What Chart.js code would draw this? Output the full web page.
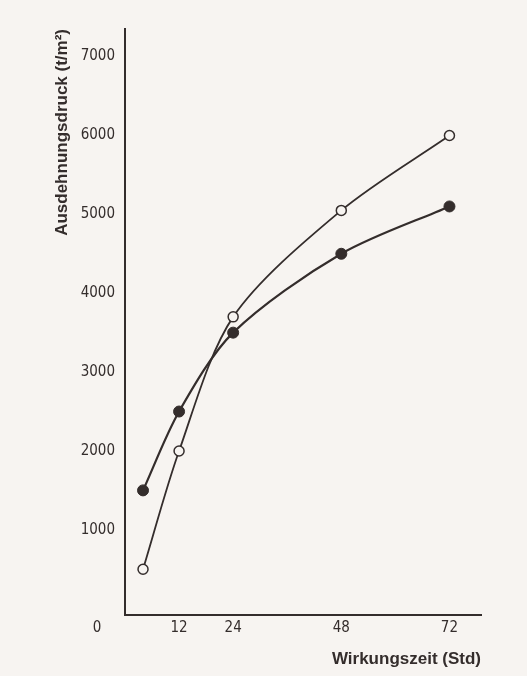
<!DOCTYPE html>
<html>
<head>
<meta charset="utf-8">
<script src="https://cdn.jsdelivr.net/npm/chart.js@4"></script>
<style>
  html, body { margin: 0; padding: 0; background: #f7f4f1; }
  #wrap { width: 527px; height: 676px; }
</style>
</head>
<body>
<div id="wrap"><canvas id="chart" width="527" height="676"></canvas></div>
<script>
/* DATA */
const hours = [4, 12, 24, 48, 72];
const openValues = [500, 2000, 3700, 5050, 6000];
const filledValues = [1500, 2500, 3500, 4500, 5100];
const xTicks = [12, 24, 48, 72];
const yTicks = [0, 1000, 2000, 3000, 4000, 5000, 6000, 7000];

const ink = "#342d2c";
const paper = "#f7f4f1";
const tickFont = { family: "'Liberation Sans Narrow', 'DejaVu Sans Condensed', sans-serif", size: 15 };
const titleFont = { family: "'Liberation Sans', Arial, sans-serif", size: 17, weight: "bold" };

function toPoints(values) {
    return hours.map((h, i) => ({ x: h, y: values[i] }));
}

/* BACKGROUND + ORIGIN LABEL */
const paperPlugin = {
    id: "paper",
    beforeDraw(chart) {
        let c = chart.ctx;
        c.save();
        c.fillStyle = paper;
        c.fillRect(0, 0, chart.width, chart.height);
        c.restore();
    },
    afterDraw(chart) {
        // the "0" of the y axis sits down on the row of x labels
        let c = chart.ctx;
        let area = chart.chartArea;
        c.save();
        c.font = "15px " + tickFont.family;
        c.fillStyle = ink;
        c.textAlign = "center";
        c.textBaseline = "middle";
        c.fillText("0", area.left - 28, area.bottom + 13);
        c.restore();
    }
};

let ctx = document.getElementById("chart").getContext("2d");

let chart = new Chart(ctx, {
    type: "line",
    data: {
        datasets: [
            {
                label: "offen",
                data: toPoints(openValues),
                borderColor: ink,
                borderWidth: 1.8,
                tension: 0.3,
                pointRadius: 5,
                pointBorderWidth: 1.5,
                pointBackgroundColor: paper,
                pointBorderColor: ink
            },
            {
                label: "voll",
                data: toPoints(filledValues),
                borderColor: ink,
                borderWidth: 2.2,
                tension: 0.3,
                pointRadius: 5.5,
                pointBorderWidth: 1,
                pointBackgroundColor: ink,
                pointBorderColor: ink
            }
        ]
    },
    options: {
        responsive: false,
        animation: false,
        layout: { padding: { top: 29, right: 46, bottom: 0, left: 0 } },
        plugins: {
            legend: { display: false },
            tooltip: { enabled: false }
        },
        scales: {
            x: {
                type: "linear",
                min: 0,
                max: 79,
                afterBuildTicks: s => { s.ticks = xTicks.map(v => ({ value: v })); },
                afterFit: s => { s.height = 61; },
                grid: { display: false, drawTicks: false },
                border: { display: true, color: ink, width: 2 },
                ticks: { color: ink, font: tickFont, padding: 4, maxRotation: 0 },
                title: {
                    display: true,
                    text: "Wirkungszeit (Std)",
                    align: "end",
                    color: ink,
                    font: titleFont,
                    padding: { top: 0, bottom: 6 }
                }
            },
            y: {
                min: -80,
                max: 7350,
                afterBuildTicks: s => { s.ticks = yTicks.map(v => ({ value: v })); },
                afterFit: s => { s.width = 125; },
                grid: { display: false, drawTicks: false },
                border: { display: true, color: ink, width: 2 },
                ticks: {
                    color: ink,
                    font: tickFont,
                    padding: 10,
                    callback: v => (v === 0 ? "" : String(v))
                },
                title: {
                    display: true,
                    text: "Ausdehnungsdruck (t/m²)",
                    align: "end",
                    color: ink,
                    font: titleFont,
                    padding: { top: 52, bottom: 0 }
                }
            }
        }
    },
    plugins: [paperPlugin]
});
</script>
</body>
</html>
